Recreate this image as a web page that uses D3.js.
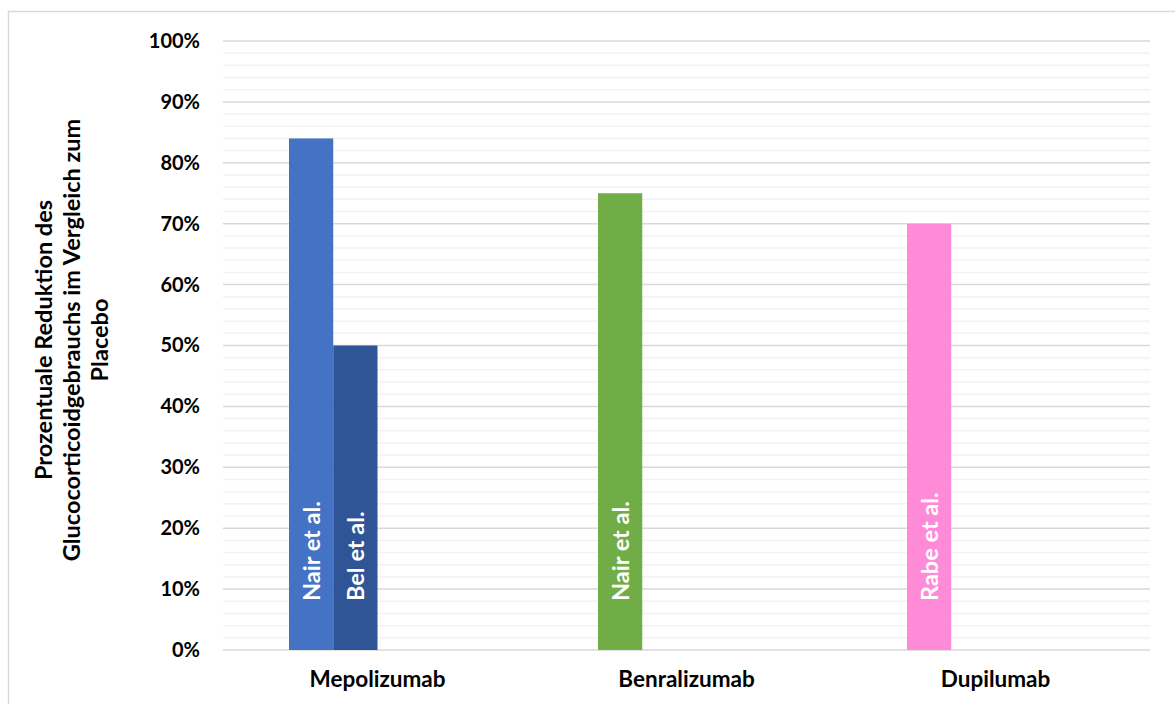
<!DOCTYPE html>
<html>
<head>
<meta charset="utf-8">
<script src="https://cdn.jsdelivr.net/npm/d3@7"></script>
<style>
  body { margin: 0; background: #fff; }
  svg { font-family: Lato, "Open Sans", sans-serif; }
</style>
</head>
<body>
<div id="chart"></div>
<script>
// Categories and study slots (4 bars per category, empty ones are 0)
const categories = ["Mepolizumab", "Benralizumab", "Dupilumab"];
const slots = ["s1", "s2", "s3", "s4"];
const values = [
    [84, 50, 0, 0],
    [75, 0, 0, 0],
    [70, 0, 0, 0]
];
const studyLabels = [
    ["Nair et al.", "Bel et al.", "", ""],
    ["Nair et al.", "", "", ""],
    ["Rabe et al.", "", "", ""]
];
const barColors = [
    ["#4472C4", "#2F5597", "#4472C4", "#4472C4"],
    ["#70AD47", "#70AD47", "#70AD47", "#70AD47"],
    ["#FF8AD8", "#FF8AD8", "#FF8AD8", "#FF8AD8"]
];
const yTicks = [0, 10, 20, 30, 40, 50, 60, 70, 80, 90, 100];
const yTitle = ["Prozentuale Reduktion des", "Glucocorticoidgebrauchs im Vergleich zum", "Placebo"];

const W = 1175, H = 704;
const margin = { top: 41, right: 25, bottom: 54, left: 223 };
const width = W - margin.left - margin.right;
const height = H - margin.top - margin.bottom;

const svg = d3.select("#chart").append("svg")
    .attr("width", W)
    .attr("height", H);

// chart frame
svg.append("rect")
    .attr("x", 8.5).attr("y", 11.5)
    .attr("width", W).attr("height", H)
    .attr("fill", "none")
    .attr("stroke", "#d9d9d9")
    .attr("stroke-width", 1.5);

const g = svg.append("g")
    .attr("transform", "translate(" + margin.left + "," + margin.top + ")");

const xScale = d3.scaleBand().domain(categories).range([0, width]).paddingInner(0).paddingOuter(0);
const xInner = d3.scaleBand().domain(slots).range([66, xScale.bandwidth() - 66]);
const yScale = d3.scaleLinear().domain([0, 100]).range([height, 0]);

// minor gridlines every 2%
g.append("g")
    .selectAll("line")
    .data(d3.range(2, 100, 2).filter(v => v % 10 !== 0))
    .enter().append("line")
    .attr("x1", 0).attr("x2", width)
    .attr("y1", d => yScale(d)).attr("y2", d => yScale(d))
    .attr("stroke", "#f2f2f2")
    .attr("stroke-width", 1.5);

// major gridlines
g.append("g")
    .selectAll("line")
    .data(yTicks)
    .enter().append("line")
    .attr("x1", 0).attr("x2", width)
    .attr("y1", d => yScale(d)).attr("y2", d => yScale(d))
    .attr("stroke", "#d9d9d9")
    .attr("stroke-width", 1.5);

// y axis labels
const yAxis = d3.axisLeft(yScale).tickValues(yTicks).tickFormat(d => d + "%").tickSize(0).tickPadding(23);
g.append("g")
    .call(yAxis)
    .call(s => s.select(".domain").remove())
    .selectAll("text")
    .attr("fill", "#000")
    .style("font-size", "20px")
    .style("font-weight", "bold")
    .style("font-family", "Lato, sans-serif");

// x axis labels
const xAxis = d3.axisBottom(xScale).tickSize(0).tickPadding(21);
g.append("g")
    .attr("transform", "translate(0," + height + ")")
    .call(xAxis)
    .call(s => s.select(".domain").remove())
    .selectAll("text")
    .attr("fill", "#000")
    .style("font-size", "22.5px")
    .style("font-weight", "bold")
    .style("font-family", "Lato, sans-serif");

// bars
const rows = [];
categories.forEach((c, i) => {
    slots.forEach((s, j) => {
        rows.push({ cat: c, slot: s, value: values[i][j], label: studyLabels[i][j], color: barColors[i][j] });
    });
});

const groups = g.selectAll(".cat")
    .data(rows)
    .enter().append("g")
    .attr("transform", d => "translate(" + (xScale(d.cat) + xInner(d.slot)) + ",0)");

groups.append("rect")
    .attr("x", 0)
    .attr("width", xInner.bandwidth())
    .attr("y", d => yScale(d.value))
    .attr("height", d => height - yScale(d.value))
    .attr("fill", d => d.color);

// rotated labels inside the bar base
groups.filter(d => d.label)
    .append("text")
    .attr("transform", d => "translate(" + (xInner.bandwidth() / 2) + "," + (height - 49) + ") rotate(-90)")
    .attr("dy", "0.36em")
    .attr("fill", "#fff")
    .style("font-size", "23.5px")
    .style("font-weight", "bold")
    .text(d => d.label);

// y axis title, three lines
svg.append("g")
    .selectAll("text")
    .data(yTitle)
    .enter().append("text")
    .attr("transform", (d, i) => "translate(" + (52 + i * 28) + ",340) rotate(-90)")
    .attr("text-anchor", "middle")
    .style("font-size", "23.5px")
    .style("font-weight", "bold")
    .attr("fill", "#000")
    .text(d => d);
</script>
</body>
</html>
